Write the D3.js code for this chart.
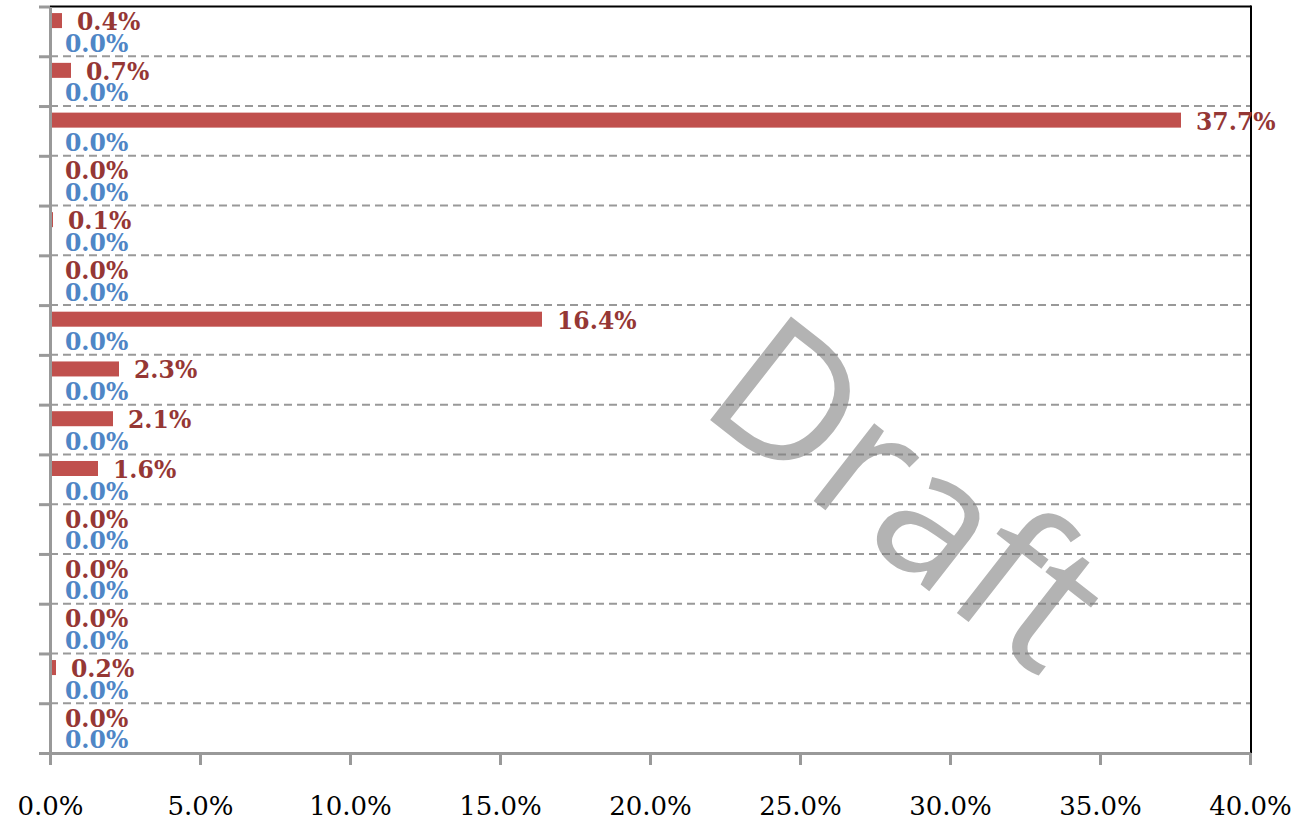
<!DOCTYPE html>
<html>
<head>
<meta charset="utf-8">
<script src="https://cdn.jsdelivr.net/npm/d3@7"></script>
<style>
  html, body { margin: 0; padding: 0; background: #fff; }
  svg { display: block; }
</style>
</head>
<body>
<svg id="chart" width="1305" height="822"></svg>
<script>
// ---- data ----
const categories = ["C1","C2","C3","C4","C5","C6","C7","C8","C9","C10","C11","C12","C13","C14","C15"];
const seriesNames = ["Series A", "Series B"];
const seriesA = [0.4, 0.7, 37.7, 0.0, 0.1, 0.0, 16.4, 2.3, 2.1, 1.6, 0.0, 0.0, 0.0, 0.2, 0.0];
const seriesB = [0.0, 0.0, 0.0, 0.0, 0.0, 0.0, 0.0, 0.0, 0.0, 0.0, 0.0, 0.0, 0.0, 0.0, 0.0];
const xTicks = [0, 5, 10, 15, 20, 25, 30, 35, 40];
const xTickLabels = ["0.0%","5.0%","10.0%","15.0%","20.0%","25.0%","30.0%","35.0%","40.0%"];
const watermark = "Draft";

(function () {
// ---- layout ----
const svg = d3.select("#chart");
const mLeft = 50, mRight = 1251, mTop = 6.5, mBottom = 753;

const x = d3.scaleLinear().domain([0, 40]).range([mLeft, mRight - 1]);
const y = d3.scaleBand().domain(categories).range([mTop, mBottom]).padding(0);
const yIdx = d3.scaleLinear().domain([0, categories.length]).range([mTop, mBottom]);
const sub = d3.scaleBand().domain(seriesNames).range([0, y.bandwidth()]).paddingInner(0.305).paddingOuter(0.305);

const colors = { "Series A": "#c0504d", "Series B": "#4f81bd" };
const labelColors = { "Series A": "#953735", "Series B": "#4f86c6" };

// watermark (under the grid)
svg.append("text")
  .attr("transform", "translate(696,409) rotate(38)")
  .attr("font-family", "'Open Sans', sans-serif")
  .attr("font-size", 184)
  .attr("fill", "#b3b3b3")
  .text(watermark);

// gridlines (dashed) at band boundaries
svg.append("g").selectAll("line")
  .data(d3.range(1, categories.length))
  .join("line")
  .attr("x1", mLeft).attr("x2", mRight)
  .attr("y1", d => yIdx(d)).attr("y2", d => yIdx(d))
  .attr("stroke", "#808080").attr("stroke-opacity", 0.8).attr("stroke-width", 2)
  .attr("stroke-dasharray", "8,5");

// plot border top/right (black)
svg.append("line").attr("x1", mLeft).attr("x2", mRight).attr("y1", mTop).attr("y2", mTop)
  .attr("stroke", "#000").attr("stroke-width", 2);
svg.append("line").attr("x1", mRight).attr("x2", mRight).attr("y1", mTop - 1).attr("y2", mBottom)
  .attr("stroke", "#000").attr("stroke-width", 2);

// bars
const rows = categories.map((c, i) => ({ cat: c, vals: [
  { s: seriesNames[0], v: seriesA[i] },
  { s: seriesNames[1], v: seriesB[i] }
]}));

const rowG = svg.append("g").selectAll("g").data(rows).join("g")
  .attr("transform", d => `translate(0,${y(d.cat)})`);

rowG.selectAll("rect").data(d => d.vals).join("rect")
  .attr("x", x(0))
  .attr("y", d => sub(d.s))
  .attr("width", d => x(d.v) - x(0))
  .attr("height", sub.bandwidth())
  .attr("fill", d => colors[d.s]);

rowG.selectAll("text").data(d => d.vals).join("text")
  .attr("x", d => x(d.v) + 15)
  .attr("y", d => sub(d.s) + sub.bandwidth() / 2 + 9.5)
  .attr("fill", d => labelColors[d.s])
  .attr("font-family", "'DejaVu Serif', serif")
  .attr("font-weight", "bold")
  .attr("font-size", 23.5)
  .text(d => d.v.toFixed(1) + "%");

// left axis (grey, ticks at band boundaries)
const yAxis = d3.axisLeft(yIdx).tickValues(d3.range(0, categories.length + 1)).tickFormat("").tickSize(11).tickSizeOuter(0);
const ya = svg.append("g").attr("transform", `translate(${mLeft},0)`).call(yAxis);
ya.selectAll("line").attr("stroke", "#999").attr("stroke-width", 3);
ya.select(".domain").attr("stroke", "#999").attr("stroke-width", 3);

// bottom axis
const xAxis = d3.axisBottom(x).tickValues(xTicks).tickFormat((d, i) => xTickLabels[i]).tickSize(12).tickSizeOuter(0).tickPadding(32);
const xa = svg.append("g").attr("transform", `translate(0,${mBottom})`).call(xAxis);
xa.select(".domain").attr("stroke", "#999").attr("stroke-width", 3);
xa.selectAll(".tick line").attr("stroke", "#999").attr("stroke-width", 3);
xa.selectAll("text").attr("font-family", "'DejaVu Serif', serif").attr("font-size", 26).attr("fill", "#000");
})();
</script>
</body>
</html>
